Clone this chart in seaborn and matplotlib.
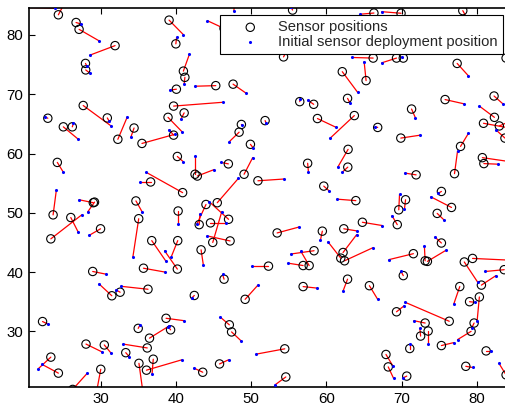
import numpy as np
import pandas as pd
import matplotlib
matplotlib.use("Agg")
import matplotlib.pyplot as plt
import seaborn as sns

# sensor positions (circles) and initial deployment positions (blue dots), one pair per sensor
sensor_x = [24.4, 18.6, 26.75, 27.15, 31.93, 28.0, 28.03, 27.7, 23.0, 30.9, 25.06, 26.25, 32.3, 34.45,
            39.1, 40.0, 46.4, 47.8, 41.0, 41.2, 40.07, 45.3, 47.6, 39.7, 41.1, 38.96, 39.7, 48.7, 48.4, 35.5,
            55.5, 69.9, 78.1, 66.3, 54.3, 66.2, 65.26, 62.1, 62.8, 56.45, 58.3, 51.85, 58.8, 63.7, 66.8,
            69.3, 70.2, 83.85, 77.35, 75.75, 71.3, 82.25, 82.3, 80.85, 82.95, 83.7,
            24.26, 23.7, 23.4, 26.05, 29.04, 29.2, 30.0, 34.7, 35.07, 36.65, 40.9, 40.2, 42.55, 42.85,
            46.97, 49.9, 49.06, 50.9, 45.5, 44.0, 43.1, 44.6, 47.0, 44.9, 47.2, 40.3, 36.8, 40.25, 40.2, 43.35,
            62.87, 62.83, 57.5, 59.64, 63.9, 53.45, 59.45, 62.3, 64.77, 62.2, 61.9, 62.4, 58.35, 56.9, 57.7, 52.3,
            69.87, 77.8, 77.0, 80.7, 80.9, 71.9, 75.26, 70.5, 69.6, 76.6, 74.7, 69.4, 75.26, 71.54, 73.1, 73.4,
            79.4, 78.3, 80.57, 83.6, 70.2, 77.7, 79.0, 80.3, 79.6, 79.2, 75.26, 69.3, 76.3, 73.1, 73.5, 72.5,
            71.06, 67.9, 68.2, 70.66, 78.5, 81.2, 83.85, 65.7, 56.9, 62.8, 49.2, 54.46, 54.6,
            35.7, 46.4, 36.3, 32.6, 31.5, 28.96, 42.45, 38.7, 39.3, 36.5, 35.0, 36.2, 47.1, 47.4, 35.1, 36.1,
            37.0, 43.57, 45.8, 22.3, 28.07, 30.5, 33.35, 23.4, 24.4, 30.03, 26.3]
sensor_y = [83.4, 84.7, 82.1, 80.95, 78.2, 75.2, 74.1, 68.1, 65.95, 66.0, 64.5, 64.5, 62.4, 64.3,
            82.5, 78.5, 81.1, 85.5, 73.9, 72.85, 70.85, 71.45, 71.7, 68.0, 66.85, 66.1, 63.1, 64.9, 63.6, 61.7,
            84.2, 83.66, 84.1, 83.7, 76.3, 76.1, 72.3, 73.8, 69.3, 68.75, 68.3, 65.55, 65.9, 66.4, 64.4,
            76.1, 76.1, 76.1, 75.2, 69.1, 67.5, 69.7, 66.1, 65.1, 64.65, 62.6,
            58.5, 49.65, 45.6, 49.2, 51.7, 51.8, 47.3, 52.0, 49.0, 55.2, 53.4, 59.5, 56.5, 56.2,
            58.25, 61.55, 56.5, 55.4, 51.7, 51.4, 48.0, 48.3, 48.9, 45.0, 45.25, 50.3, 45.3, 45.3, 40.5, 43.75,
            60.7, 57.7, 58.35, 54.5, 52.05, 46.6, 46.9, 47.3, 48.4, 43.3, 42.35, 41.9, 43.6, 41.1, 41.1, 41.0,
            62.6, 61.2, 56.6, 59.3, 58.3, 56.4, 53.6, 52.2, 50.5, 50.9, 49.9, 48.0, 44.9, 43.1, 41.9, 41.8,
            42.3, 41.7, 37.8, 40.4, 39.4, 37.55, 35.0, 35.8, 31.4, 30.0, 27.6, 33.3, 31.7, 31.4, 30.05, 29.2,
            27.1, 26.1, 24.0, 22.45, 24.1, 26.7, 22.65, 37.7, 37.55, 38.8, 35.4, 27.05, 22.3,
            40.65, 38.8, 37.1, 36.6, 36.0, 40.1, 36.05, 32.2, 30.25, 28.85, 30.5, 27.2, 31.1, 29.9, 24.6, 23.45,
            25.3, 23.1, 24.5, 31.65, 27.85, 27.7, 26.4, 25.65, 22.95, 23.6, 20.2]
init_x = [25.15, 23.9, 27.4, 29.76, 28.6, 28.2, 28.65, 31.4, 22.6, 31.1, 27.05, 26.4, 33.56, 34.05,
          41.0, 40.1, 44.2, 47.7, 41.8, 41.1, 39.2, 42.55, 49.3, 46.3, 40.7, 40.8, 39.1, 48.8, 47.1, 39.9,
          55.3, 67.34, 78.8, 64.5, 54.8, 63.4, 65.0, 64.15, 63.1, 56.5, 57.5, 52.0, 61.3, 60.5, 66.5,
          67.34, 70.0, 84.6, 78.85, 78.2, 71.8, 83.45, 80.3, 84.3, 84.5, 82.5,
          25.06, 24.13, 27.5, 27.05, 27.15, 28.3, 28.5, 35.55, 34.3, 35.25, 36.1, 41.0, 42.55, 45.1,
          46.0, 50.3, 50.2, 54.4, 48.3, 42.8, 43.2, 46.6, 44.4, 46.1, 44.15, 40.3, 38.7, 39.4, 38.5, 43.65,
          61.5, 62.1, 57.6, 60.35, 61.4, 56.36, 59.2, 64.0, 67.4, 64.0, 60.2, 66.15, 55.3, 54.9, 56.6, 50.1,
          72.47, 78.85, 77.4, 84.5, 82.75, 70.4, 74.86, 70.35, 69.7, 73.85, 75.6, 68.7, 74.4, 68.3, 73.0, 75.9,
          84.5, 80.1, 82.5, 81.1, 69.9, 76.9, 79.7, 80.0, 79.3, 77.4, 76.9, 70.3, 70.45, 71.6, 73.5, 72.4,
          71.06, 68.8, 68.9, 70.1, 79.4, 81.8, 82.9, 66.8, 58.7, 62.2, 50.9, 50.65, 53.2,
          38.55, 46.2, 32.7, 32.05, 29.8, 30.7, 42.1, 41.1, 39.0, 39.1, 35.25, 33.0, 45.9, 48.66, 35.6, 40.8,
          36.84, 42.4, 47.0, 23.07, 30.24, 31.35, 33.8, 21.74, 22.2, 29.5, 28.25]
init_y = [85.2, 84.5, 81.85, 79.04, 76.6, 74.7, 73.5, 64.65, 66.2, 65.55, 62.4, 65.1, 66.2, 62.85,
          80.05, 79.6, 82.4, 84.0, 76.75, 71.7, 70.7, 71.35, 70.2, 68.65, 65.85, 63.7, 64.0, 64.8, 62.0, 63.25,
          84.7, 83.93, 82.5, 83.5, 77.5, 76.2, 75.5, 70.3, 68.6, 69.2, 69.0, 65.1, 64.4, 62.6, 64.5,
          75.3, 76.3, 75.0, 73.1, 68.4, 66.05, 68.35, 68.0, 64.3, 65.5, 64.0,
          56.85, 53.8, 49.65, 46.7, 52.2, 50.15, 46.2, 50.1, 42.6, 55.2, 56.8, 58.6, 59.5, 57.3,
          58.5, 60.9, 59.3, 55.7, 55.8, 48.1, 49.8, 48.3, 51.9, 50.2, 46.1, 48.1, 41.8, 42.6, 43.6, 41.2,
          57.7, 56.85, 56.95, 53.7, 52.3, 47.6, 45.4, 46.95, 47.85, 46.3, 45.1, 44.1, 43.05, 41.5, 43.5, 41.0,
          63.1, 63.4, 60.4, 58.6, 58.2, 56.7, 53.3, 50.6, 53.1, 52.7, 48.8, 49.5, 45.9, 42.1, 44.4, 43.7,
          42.0, 38.25, 39.4, 40.1, 40.1, 34.6, 34.9, 31.7, 30.6, 28.6, 28.1, 34.3, 34.9, 31.8, 27.8, 30.5,
          27.9, 24.2, 22.1, 22.1, 23.9, 26.7, 24.6, 35.4, 37.3, 36.8, 37.8, 26.15, 21.0,
          40.0, 39.6, 37.6, 37.0, 38.0, 39.65, 35.6, 31.8, 30.8, 30.9, 31.1, 27.85, 32.4, 28.4, 20.0, 25.2,
          22.8, 23.8, 25.2, 31.2, 26.5, 26.4, 25.75, 23.7, 24.45, 20.0, 22.95]

x_ticks = [30, 40, 50, 60, 70, 80]
y_ticks = [30, 40, 50, 60, 70, 80]

sns.set_style("ticks")
plt.rcParams['font.family'] = ['Liberation Sans', 'DejaVu Sans']

df = pd.DataFrame({"sx": sensor_x, "sy": sensor_y, "ix": init_x, "iy": init_y})

fig = plt.figure(figsize=(5.06, 4.08), dpi=100)
ax = fig.add_axes([0.0573, 0.0522, 0.960, 0.9275])

# movement of each sensor
ax.plot(np.vstack([df["ix"], df["sx"]]), np.vstack([df["iy"], df["sy"]]),
        color="red", lw=0.9, zorder=1)

sns.scatterplot(data=df, x="sx", y="sy", ax=ax, marker="o", s=36,
                facecolor="none", edgecolor="black", linewidth=0.8,
                label="Sensor positions", zorder=2)
sns.scatterplot(data=df, x="ix", y="iy", ax=ax, marker="o", s=5,
                color="blue", edgecolor="blue", linewidth=0,
                label="Initial sensor deployment position", zorder=3)

ax.set_xlim(20.5, 85)
ax.set_ylim(20.66, 84.5)
ax.set_xticks(x_ticks)
ax.set_yticks(y_ticks)
ax.set_xlabel("")
ax.set_ylabel("")
ax.tick_params(direction="in", length=4, width=0.8, labelsize=10.8, colors="black",
               top=True, right=True, pad=4)
for sp in ax.spines.values():
    sp.set_color("black")
    sp.set_linewidth(1.2)

leg = ax.legend(loc="upper right", bbox_to_anchor=(503 / 506, (408 - 15) / 408),
                bbox_transform=fig.transFigure, borderaxespad=0, fontsize=10.6,
                frameon=True, fancybox=False, framealpha=1, edgecolor="black",
                handletextpad=0.2, borderpad=0.35, labelspacing=0.05, handlelength=3.4,
                markerscale=1.0)
leg.get_frame().set_linewidth(0.8)
leg.set_zorder(5)

fig.savefig("out.png", dpi=100)
